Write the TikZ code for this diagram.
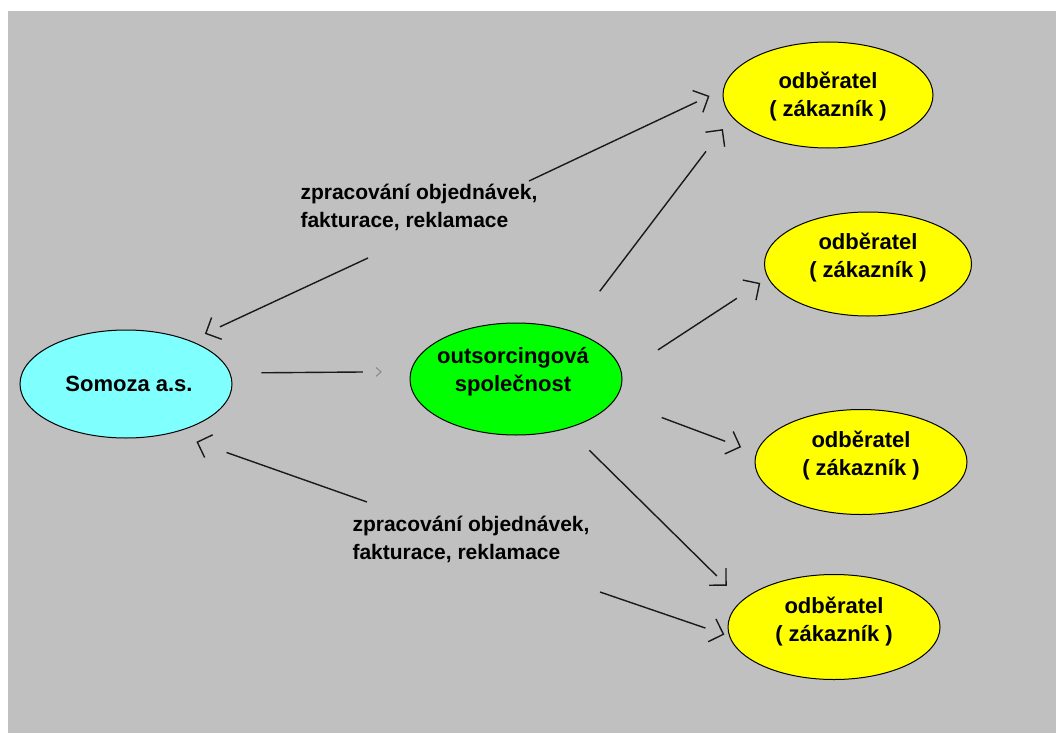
\documentclass[tikz,border=0pt]{standalone}
\usepackage{fontspec}
\setmainfont{Liberation Sans}
\usetikzlibrary{arrows.meta,shapes.geometric,calc}
\definecolor{bg}{HTML}{C0C0C0}
\definecolor{cyanf}{HTML}{80FFFF}
\definecolor{greenf}{HTML}{00FF00}
\definecolor{yellowf}{HTML}{FFFF00}
\definecolor{linec}{HTML}{1A1A1A}
\definecolor{tipgray}{HTML}{8C8C8C}
% #1 tip style, #2 start, #3 end, #4 shortening at start, #5 apex distance from end, #6 gap line->apex
\newcommand\linktip[6][bigtip]{%
  \draw[ln] ($(#2)!#4pt!(#3)$) -- ($(#3)!#5pt+#6pt!(#2)$);
  \draw[#1] ($(#3)!#5pt+1.5pt!(#2)$) -- ($(#3)!#5pt!(#2)$);
}
\begin{document}
\begin{tikzpicture}[x=1pt,y=-1pt,
  txt/.style={font=\bfseries\fontsize{21}{28}\selectfont, align=center, text=black},
  ntxt/.style={font=\bfseries\fontsize{22}{28}\selectfont, align=center, text=black},
  oval/.style={ellipse, draw=black, line width=1pt, inner sep=0pt},
  ln/.style={draw=linec, line width=1.4pt},
  bigtip/.style={draw=linec, line width=1.4pt, -{Straight Barb[length=12pt,width=24pt]}},
  smalltip/.style={draw=tipgray, line width=1.1pt, -{Straight Barb[length=5pt,width=9pt]}}
]
\useasboundingbox (0,0) rectangle (1056,733);
\fill[white] (0,0) rectangle (1056,733);
\fill[bg] (8,11) rectangle (1056,733);

% nodes
\node[oval, fill=cyanf, minimum width=212pt, minimum height=108pt,
  label={[ntxt, xshift=3pt]center:Somoza a.s.}] (som) at (126,384) {};
\node[oval, fill=greenf, minimum width=212pt, minimum height=112pt,
  label={[ntxt, xshift=-3pt, yshift=7pt]center:{outsorcingová\\společnost}}] (grn) at (516,379) {};
\node[oval, fill=yellowf, minimum width=210pt, minimum height=106pt,
  label={[ntxt, yshift=-2pt]center:{odběratel\\( zákazník )}}] (y1) at (828,95) {};
\node[oval, fill=yellowf, minimum width=207pt, minimum height=104pt,
  label={[ntxt, yshift=6pt]center:{odběratel\\( zákazník )}}] (y2) at (868,264) {};
\node[oval, fill=yellowf, minimum width=212pt, minimum height=105pt,
  label={[ntxt, yshift=6pt]center:{odběratel\\( zákazník )}}] (y3) at (861,462) {};
\node[oval, fill=yellowf, minimum width=212pt, minimum height=105pt,
  label={[ntxt, yshift=5pt]center:{odběratel\\( zákazník )}}] (y4) at (834,627) {};

\node[txt, align=left, anchor=west] (lab1) at (297,207) {zpracování objednávek,\\fakturace, reklamace};
\node[txt, align=left, anchor=west] (lab2) at (349,539) {zpracování objednávek,\\fakturace, reklamace};

% free ends of the connectors at the labels
\coordinate (l1a) at (368,258);
\coordinate (l1b) at (529,181);
\coordinate (l2a) at (367,502);
\coordinate (l2b) at (600,592);

% connectors
\linktip{l1b}{y1.177.5}{0}{15}{14}
\linktip{l1a}{som.34.3}{0}{16}{16.5}
\linktip[smalltip]{som.6}{grn.176.7}{31}{28.6}{19}
\linktip{grn.42}{y1.193}{49}{15}{28}
\linktip{grn.3.8}{y2.188}{43}{9}{28}
\linktip{grn.348.6}{y3.175.3}{50}{16}{17}
\linktip{grn.316.7}{y4.164.4}{31}{21}{14}
\linktip{l2b}{y4.185.9}{0}{5}{20}
\linktip{l2a}{som.313.5}{0}{26}{32}
\end{tikzpicture}
\end{document}
